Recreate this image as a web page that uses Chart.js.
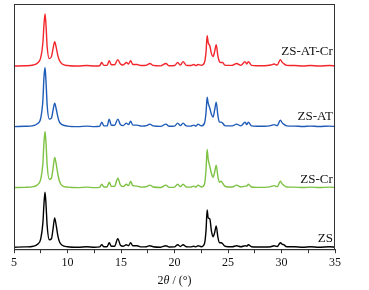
<!DOCTYPE html>
<html>
<head>
<meta charset="utf-8">
<script src="https://cdn.jsdelivr.net/npm/chart.js@4.4.0/dist/chart.umd.min.js"></script>
<style>
  html, body { margin: 0; padding: 0; background: #fff; }
  #wrap { width: 369px; height: 290px; }
</style>
</head>
<body>
<div id="wrap"><canvas id="xrd"></canvas></div>
<script>
// 2theta positions shared by every pattern
var angles = [5, 6, 6.8, 7.2, 7.5, 7.7, 7.8, 7.9, 8.0, 8.1,
  8.3, 8.5, 8.65, 8.8, 8.95, 9.1, 9.25, 9.5, 10, 11,
  11.8, 12.5, 13.0, 13.2, 13.4, 13.7, 13.9, 14.1, 14.4, 14.7,
  14.95, 15.2, 15.5, 15.7, 15.9, 16.1, 16.5, 16.9, 17.4, 17.7,
  18.0, 18.7, 19.2, 19.5, 20.0, 20.3, 20.55, 20.8, 21.1, 21.5,
  21.8, 22.0, 22.2, 22.5, 22.8, 22.95, 23.05, 23.15, 23.3, 23.45,
  23.6, 23.75, 23.9, 24.05, 24.2, 24.35, 24.5, 24.7, 25.0, 25.4,
  25.8, 26.2, 26.6, 26.75, 26.9, 27.2, 27.7, 28.4, 29.0, 29.3,
  29.6, 29.9, 30.05, 30.2, 30.5, 31.2, 32.0, 32.7, 33.5, 34.5,
  35];

var zs = [0.5, 0.8, 1.5, 3.5, 9, 25, 44, 56, 42, 22,
  8, 9, 19, 30, 22, 12, 6, 2.5, 1, 0.5,
  1, 0.5, 0.8, 3, 1, 1, 5, 1.5, 1.5, 9,
  2.5, 1.5, 3, 2, 5, 2, 2, 0.8, 1, 2,
  1, 0.5, 2, 0.7, 0.8, 3, 1.2, 3, 1, 0.8,
  1.5, 0.8, 2, 1, 4, 18, 38, 30, 29, 17,
  11, 15, 22, 11, 5, 5, 4, 1.5, 1, 1,
  2, 1, 2, 1.5, 3, 1, 0.7, 0.7, 1, 2,
  1.2, 5, 3.5, 3, 1, 1, 0.5, 1, 0.5, 1,
  0.5];

var zsCr = [0.5, 0.8, 1.5, 3.5, 9, 25, 46, 57, 44, 23,
  9, 10, 20, 31, 24, 14, 7, 2.5, 1, 0.5,
  1, 0.5, 0.8, 4, 1.2, 1.2, 6, 1.8, 1.8, 10,
  3, 1.5, 4, 2.5, 7, 2.5, 2, 1, 1.5, 3,
  1.2, 0.7, 3, 0.8, 1, 4, 1.5, 4, 1.2, 1,
  2, 1, 3, 1.2, 4, 19, 39, 29, 22, 15,
  11, 16, 23, 12, 6, 7, 5, 2, 1.2, 1.2,
  3, 1.2, 2, 2, 4, 1.2, 0.8, 0.8, 1.5, 2.5,
  1.5, 7, 4.5, 3, 1.2, 1, 0.6, 1, 0.6, 1,
  0.6];

var zsAt = [0.5, 0.8, 1.5, 3.5, 9, 27, 50, 60, 44, 22,
  8, 9, 17, 24, 18, 10, 5, 2.5, 1, 0.5,
  1, 0.5, 0.8, 5, 1.2, 1.2, 8, 1.8, 1.8, 8,
  2.5, 1.5, 4, 2.5, 6, 2, 2, 1, 1.5, 3,
  1.2, 0.7, 3, 0.8, 1, 4, 1.5, 4, 1.2, 1,
  2, 1, 3, 1.2, 4, 15, 30, 24, 19, 13,
  10, 17, 25, 12, 5, 5, 4, 1.5, 1.2, 1.2,
  3, 1.2, 5, 2.5, 5, 1.2, 0.8, 0.8, 1.5, 2.5,
  1.5, 7, 4.5, 3, 1.2, 1, 0.6, 1, 0.6, 1,
  0.6];

var zsAtCr = [0.5, 0.8, 1.5, 3.5, 9, 24, 42, 53, 40, 20,
  8, 10, 18, 25, 19, 11, 6, 2.5, 1, 0.5,
  1, 0.5, 0.8, 4, 1.2, 1.2, 6, 1.8, 1.8, 7,
  2.5, 1.5, 4, 2.5, 6, 2, 2, 1, 1.5, 3,
  1.2, 0.7, 3, 0.8, 1, 4, 1.5, 5, 1.2, 1,
  2, 1, 2, 1.2, 4, 15, 31, 24, 21, 13,
  10, 15, 22, 11, 5, 4, 4, 1.5, 1.2, 1.2,
  3, 1.2, 5, 2.5, 5, 1.2, 0.8, 0.8, 1.5, 2.5,
  1.5, 7, 4.5, 3, 1.2, 1, 0.6, 1, 0.6, 1,
  0.6];

var names = ['ZS', 'ZS-Cr', 'ZS-AT', 'ZS-AT-Cr'];
var offsets = [1.5, 61.5, 123, 184]; // vertical stacking of the patterns
var colors = ['#000000', '#7dc242', '#1f5cb8', '#f2262b'];
var patterns = [zs, zsCr, zsAt, zsAtCr];

var datasets = patterns.map(function (p, k) {
    return {
        label: names[k],
        data: angles.map(function (a, i) { return { x: a, y: p[i] + offsets[k] }; }),
        borderColor: colors[k],
        borderWidth: 1.4,
        pointRadius: 0,
        cubicInterpolationMode: 'monotone',
        fill: false
    };
});

var serif = '"Liberation Serif", "DejaVu Serif", serif';

// frame around the plot, series names and the axis title
var decor = {
    id: 'decor',
    afterDatasetsDraw: function (chart) {
        var c = chart.ctx, a = chart.chartArea;
        var xs = chart.scales.x, ys = chart.scales.y;
        c.save();
        c.strokeStyle = '#333';
        c.lineWidth = 1;
        c.strokeRect(a.left + 0.5, a.top + 0.5, a.right - a.left - 1, a.bottom - a.top);
        c.fillStyle = '#111';
        c.font = '13px ' + serif;
        c.textAlign = 'right';
        c.textBaseline = 'middle';
        var lift = [9, 9, 11, 15];
        names.forEach(function (n, k) {
            c.fillText(n, xs.getPixelForValue(34.8), ys.getPixelForValue(offsets[k] + lift[k]));
        });

        // "2θ / (°)" with italic symbols only
        var parts = [['2', ''], ['\u03b8', 'italic '], [' / (\u00b0)', '']];
        var widths = parts.map(function (p) { c.font = p[1] + '12px ' + serif; return c.measureText(p[0]).width; });
        var total = widths.reduce(function (s, w) { return s + w; }, 0);
        var x0 = (a.left + a.right) / 2 - total / 2;
        c.textAlign = 'left';
        c.textBaseline = 'middle';
        parts.forEach(function (p, i) {
            c.font = p[1] + '12px ' + serif;
            c.fillText(p[0], x0, 281);
            x0 += widths[i];
        });
        c.restore();
    }
};

new Chart(document.getElementById('xrd'), {
    type: 'line',
    data: { datasets: datasets },
    options: {
        responsive: true,
        maintainAspectRatio: false,
        animation: false,
        layout: { padding: { left: 14, right: 34, top: 4, bottom: 2 } },
        plugins: { legend: { display: false }, tooltip: { enabled: false } },
        scales: {
            x: {
                type: 'linear',
                min: 5,
                max: 35,
                ticks: {
                    stepSize: 2.5,
                    autoSkip: false,
                    maxRotation: 0,
                    color: '#111',
                    padding: 2,
                    font: { family: serif, size: 12 },
                    callback: function (v) { return v % 5 === 0 ? v : ''; }
                },
                grid: { drawOnChartArea: false, color: '#333', tickLength: 4 },
                border: { color: '#333' },
                title: {
                    display: true,
                    text: '2\u03b8 / (\u00b0)',
                    color: 'rgba(0,0,0,0)',
                    padding: { top: 2, bottom: 0 },
                    font: { family: serif, size: 12 }
                }
            },
            y: {
                display: false,
                min: 0,
                max: 247
            }
        }
    },
    plugins: [decor]
});
</script>
</body>
</html>
